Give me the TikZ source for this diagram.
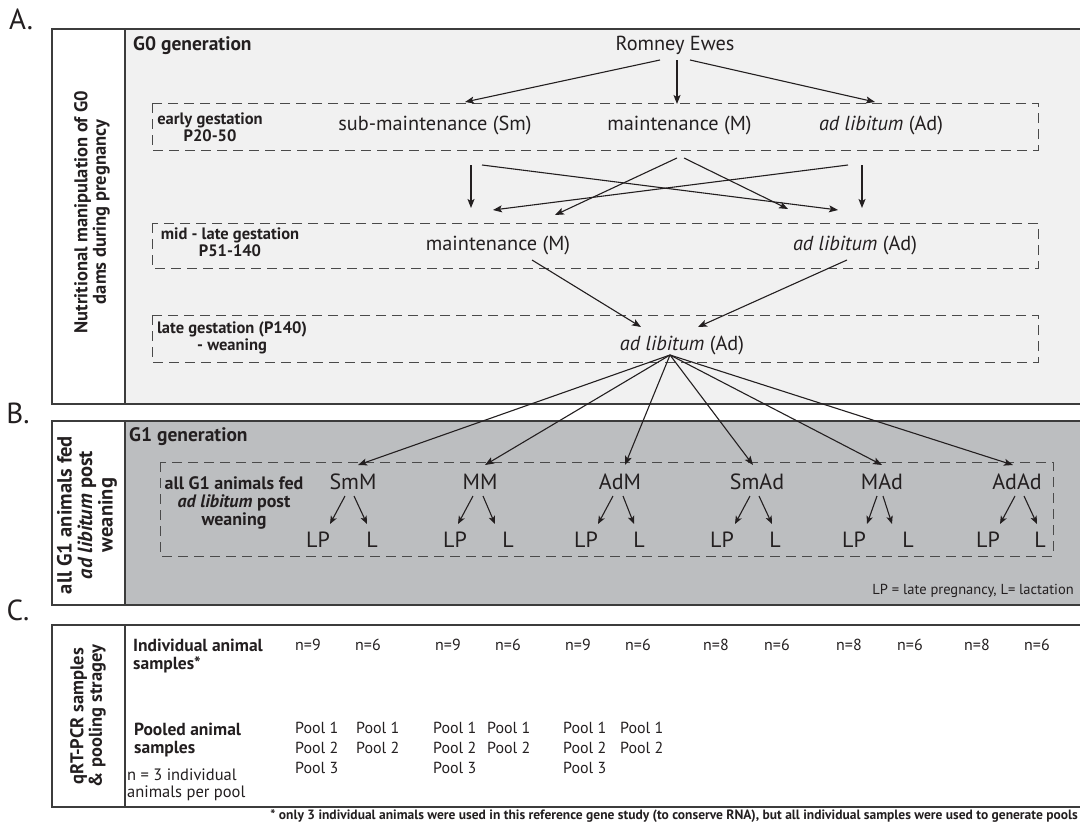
\documentclass[tikz,border=0pt]{standalone}
\usepackage{fontspec}
\setmainfont{PT Sans}
\usetikzlibrary{arrows.meta}
\definecolor{ink}{HTML}{231F20}
\definecolor{paneA}{HTML}{F1F1F1}
\definecolor{paneB}{HTML}{BCBEC0}
\definecolor{frame}{HTML}{3C3C3C}
\definecolor{dashc}{HTML}{4A4A4A}
\newcommand{\fs}[1]{\fontsize{#1}{#1}\selectfont}
\begin{document}
\begin{tikzpicture}[x=1pt,y=-1pt,
  every node/.style={inner sep=0pt, text=ink},
  arr/.style={draw=ink, line width=1.1pt, -{Stealth[length=9pt,width=7pt,inset=2pt]}},
  sarr/.style={draw=ink, line width=1.1pt, -{Stealth[length=8pt,width=6.5pt,inset=2pt]}},
  dbox/.style={draw=dashc, dash pattern=on 10pt off 6pt, line width=0.9pt},
  frm/.style={draw=frame, line width=1.3pt},
  big/.style={font=\fs{20.3}},
  gone/.style={font=\fs{22}},
  step label/.style={font=\bfseries\fs{16.5}, align=center},
  side/.style={font=\bfseries\fs{18.5}, align=center, rotate=90},
  letter/.style={font=\fs{29}},
  title/.style={font=\bfseries\fs{19.5}, anchor=west},
  small/.style={font=\fs{16}, anchor=west},
  rowhead/.style={font=\bfseries\fs{17.5}, anchor=west, align=left}
]
\useasboundingbox (0,0) rectangle (1080,827);
\fill[white] (0,0) rectangle (1080,827);

% ---------- panel A ----------
\fill[paneA] (125,29) rectangle (1090,404);
\draw[frm] (1090,29) -- (52,29) -- (52,404) -- (1090,404);
\draw[frm] (125,29) -- (125,404);
\node[letter] (la) at (21,19) {A.};
\node[title] (g0) at (133,46) {G0 generation};
\node[side] (sa) at (92,212) {Nutritional manipulation of G0\\dams during pregnancy};

\draw[dbox] (152,103) rectangle (1038,150);
\draw[dbox] (152,223) rectangle (1038,268);
\draw[dbox] (152,315) rectangle (1038,362);
\node[step label] (s1) at (210,127) {early gestation\\P20-50};
\node[step label] (s2) at (230,242) {mid - late gestation\\P51-140};
\node[step label] (s3) at (232,338) {late gestation (P140)\\- weaning};

\node[big] (re) at (675,45) {Romney Ewes};
\node[big] (sm1) at (435,126) {sub-maintenance (Sm)};
\node[big] (m1) at (679.5,126) {maintenance (M)};
\node[big] (ad1) at (881,126) {\textit{ad libitum} (Ad)};
\node[big] (m2) at (498,246) {maintenance (M)};
\node[big] (ad2) at (855,246) {\textit{ad libitum} (Ad)};
\node[big] (ad3) at (682,346) {\textit{ad libitum} (Ad)};

\draw[arr] ([shift={(660-675,60-45)}]re.center) -- ([shift={(465-435,102-126)}]sm1.center);
\draw[arr] ([shift={(677-675,60-45)}]re.center) -- ([shift={(677-679.5,104-126)}]m1.center);
\draw[arr] ([shift={(690-675,60-45)}]re.center) -- ([shift={(875-881,102-126)}]ad1.center);

\draw[arr] ([shift={(471-435,165-126)}]sm1.center) -- ([shift={(471-498,208-246)}]m2.center);
\draw[arr] ([shift={(482-435,165-126)}]sm1.center) -- ([shift={(838-855,210-246)}]ad2.center);
\draw[arr] ([shift={(677-679.5,158-126)}]m1.center) -- ([shift={(555-498,215-246)}]m2.center);
\draw[arr] ([shift={(684-679.5,158-126)}]m1.center) -- ([shift={(788-855,209-246)}]ad2.center);
\draw[arr] ([shift={(848-881,165-126)}]ad1.center) -- ([shift={(493-498,210-246)}]m2.center);
\draw[arr] ([shift={(862-881,165-126)}]ad1.center) -- ([shift={(862-855,208-246)}]ad2.center);

\draw[arr] ([shift={(532-498,260-246)}]m2.center) -- ([shift={(641-682,327-346)}]ad3.center);
\draw[arr] ([shift={(847-855,260-246)}]ad2.center) -- ([shift={(698-682,327-346)}]ad3.center);

% ---------- panel B ----------
\fill[paneB] (125,421) rectangle (1090,605);
\draw[frm] (1090,421) -- (52,421) -- (52,605) -- (1090,605);
\draw[frm] (125,421) -- (125,605);
\node[letter] (lb) at (18,413) {B.};
\node[title] (g1t) at (129,437) {G1 generation};
\node[side, font=\bfseries\fs{20.5}] (sb) at (87,515) {all G1 animals fed\\\textit{ad libitum} post\\weaning};
\draw[dbox] (160,462) rectangle (1053,556);
\node[step label, font=\bfseries\fs{18}] (s4) at (234,503) {all G1 animals fed\\\textit{ad libitum} post\\weaning};

\foreach \i/\t/\cx/\hx/\lp/\lx/\as/\ae/\bs/\be in {
  1/SmM/353/358/318/372/345/330/354/367,
  2/MM/480/485/455/508/473/458/483/495,
  3/AdM/620/625/586/639/613/598/623/634,
  4/SmAd/757/753/722/775/750/735/759/772,
  5/MAd/882/882/854/908/877/867/883/892,
  6/AdAd/1017/1013/988/1040/1015/1000/1024/1037}{
  \node[gone] (g\i) at (\cx,482) {\t};
  \node[gone] (lp\i) at (\lp,540) {LP};
  \node[gone] (l\i) at (\lx,540) {L};
  \draw[arr] ([shift={(670-682,355-346)}]ad3.center) -- ([shift={(\hx-\cx,465-482)}]g\i.center);
  \draw[sarr] ([shift={(\as-\cx,14)}]g\i.center) -- ([shift={(\ae-\lp,-16)}]lp\i.center);
  \draw[sarr] ([shift={(\bs-\cx,14)}]g\i.center) -- ([shift={(\be-\lx,-16)}]l\i.center);
}
\node[font=\fs{14.5}, anchor=east] (key) at (1074,591) {LP = late pregnancy, L= lactation};

% ---------- panel C ----------
\draw[frm] (1090,625) -- (52,625) -- (52,807) -- (1090,807);
\draw[frm] (125,625) -- (125,807);
\node[letter] (lc) at (18,610) {C.};
\node[side] (sc) at (88,716) {qRT-PCR samples\\\& pooling stragey};
\node[rowhead] (ind) at (133,656) {Individual animal\\samples*};
\node[rowhead] (poo) at (134,740) {Pooled animal\\samples};
\node[font=\fs{16.5}, anchor=west, align=left] (per) at (127,785) {n = 3 individual\\animals per pool};

\foreach \x/\v [count=\k] in {295/9,355/6,435/9,495/6,565/9,625/6,703/8,764/6,836/8,897/6,964/8,1024/6}{
  \node[small] (n\k) at (\x,645) {n=\v};
}
\foreach \x [count=\k] in {295,433,563}{
  \node[small] (pa\k) at (\x,728) {Pool 1};
  \node[small] (pb\k) at (\x,748) {Pool 2};
  \node[small] (pc\k) at (\x,768) {Pool 3};
}
\foreach \x [count=\k] in {356,487,620}{
  \node[small] (qa\k) at (\x,728) {Pool 1};
  \node[small] (qb\k) at (\x,748) {Pool 2};
}
\node[font=\bfseries\fs{13.5}, anchor=east] (foot) at (1078,816) {* only 3 individual animals were used in this reference gene study (to conserve RNA), but all individual samples were used to generate pools};
\end{tikzpicture}
\end{document}
